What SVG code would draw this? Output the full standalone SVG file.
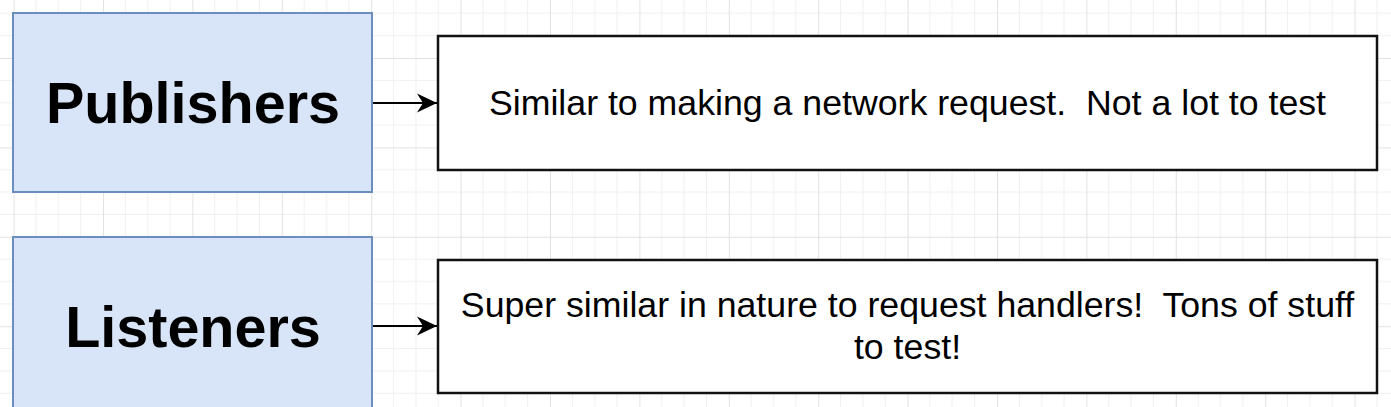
<svg xmlns="http://www.w3.org/2000/svg" width="1391" height="407" viewBox="0 0 1391 407">
  <style>
    .blue { fill: #d8e4f7; stroke: #6c8ebf; stroke-width: 2; }
    .white { fill: #ffffff; stroke: #111111; stroke-width: 2.5; }
    .big { font-family: "Liberation Sans", Arial, sans-serif; font-weight: bold; font-size: 57.5px; fill: #000; text-anchor: middle; }
    .desc { font-family: "Liberation Sans", Arial, sans-serif; font-size: 35.7px; fill: #000; text-anchor: middle; white-space: pre; }
    .edge { stroke: #000; stroke-width: 2; fill: none; }
    .minor { stroke: #f0f0f0; stroke-width: 1; }
    .major { stroke: #e2e2e2; stroke-width: 1; }
  </style>
  <defs>
    <pattern id="grid" x="13.6" y="58" width="89.4" height="89.4" patternUnits="userSpaceOnUse">
      <path class="minor" d="M22.35,0V89.4M44.7,0V89.4M67.05,0V89.4M0,22.35H89.4M0,44.7H89.4M0,67.05H89.4"/>
      <path class="major" d="M0.5,0V89.4M0,0.5H89.4"/>
    </pattern>
    <marker id="arrow" viewBox="0 0 20 20" refX="20" refY="10" markerWidth="20" markerHeight="20" markerUnits="userSpaceOnUse" orient="auto">
      <path d="M20,10 L0,0.5 L6,10 L0,19.5 Z" fill="#000"/>
    </marker>
  </defs>
  <rect width="1391" height="407" fill="#ffffff"/>
  <rect width="1391" height="407" fill="url(#grid)"/>

  <g id="connectors">
    <path class="edge" d="M372,103 H437" marker-end="url(#arrow)"/>
    <path class="edge" d="M372,326 H437" marker-end="url(#arrow)"/>
  </g>

  <g id="publishers">
    <rect class="blue" x="13" y="13" width="359" height="179"/>
    <text class="big" x="193" y="123">Publishers</text>
  </g>

  <g id="listeners">
    <rect class="blue" x="13" y="237" width="359" height="190"/>
    <text class="big" x="193" y="347">Listeners</text>
  </g>

  <g id="publishers-note">
    <rect class="white" x="438" y="36" width="939" height="134"/>
    <text class="desc" x="907.5" y="115" xml:space="preserve">Similar to making a network request.  Not a lot to test</text>
  </g>

  <g id="listeners-note">
    <rect class="white" x="438" y="260" width="939" height="133"/>
    <text class="desc" x="907.5" y="316.5" xml:space="preserve">Super similar in nature to request handlers!  Tons of stuff</text>
    <text class="desc" x="907.5" y="359">to test!</text>
  </g>
</svg>
